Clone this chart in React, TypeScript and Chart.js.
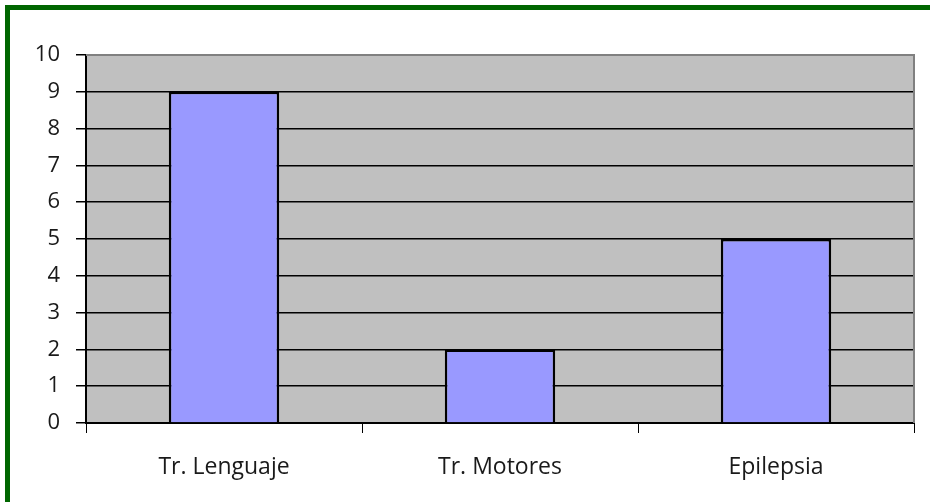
import React, { useEffect, useRef } from "react";
import { Chart, registerables } from "chart.js";

Chart.register(...registerables);

const categories = ["Tr. Lenguaje", "Tr. Motores", "Epilepsia"];
const values = [9, 2, 5];
const yTicks = [0, 1, 2, 3, 4, 5, 6, 7, 8, 9, 10];

const FONT = "'Open Sans', 'Liberation Sans', sans-serif";

const framePlugin = {
  id: "frame",
  beforeDraw(chart: any) {
    const { ctx, chartArea, width, height } = chart;
    ctx.save();
    ctx.fillStyle = "#ffffff";
    ctx.fillRect(0, 0, width, height);
    // green frame (left and top visible)
    ctx.fillStyle = "#006600";
    ctx.fillRect(5, 5, width - 5, 5);
    ctx.fillRect(5, 5, 5, height - 5);
    // plot background
    ctx.fillStyle = "#C0C0C0";
    ctx.fillRect(chartArea.left, chartArea.top, chartArea.right - chartArea.left, chartArea.bottom - chartArea.top);
    ctx.restore();
  },
  afterDatasetsDraw(chart: any) {
    const { ctx, chartArea } = chart;
    ctx.save();
    ctx.strokeStyle = "#808080";
    ctx.lineWidth = 2;
    ctx.beginPath();
    ctx.moveTo(chartArea.left, chartArea.top);
    ctx.lineTo(chartArea.right, chartArea.top);
    ctx.lineTo(chartArea.right, chartArea.bottom);
    ctx.stroke();
    ctx.restore();
  },
};

export default function App() {
  const ref = useRef<HTMLCanvasElement | null>(null);
  useEffect(() => {
    document.body.style.margin = "0";
    const chart = new Chart(ref.current as HTMLCanvasElement, {
      type: "bar",
      data: {
        labels: categories,
        datasets: [
          {
            data: values,
            backgroundColor: "#9999FF",
            borderColor: "#000000",
            borderWidth: 2.5,
            barPercentage: 0.4,
            categoryPercentage: 1,
          },
        ],
      },
      options: {
        animation: false,
        responsive: false,
        maintainAspectRatio: false,
        layout: { padding: { top: 55, right: 16, left: 0, bottom: 0 } },
        plugins: { legend: { display: false }, tooltip: { enabled: false } },
        scales: {
          x: {
            afterFit: (s: any) => {
              s.height = 79;
            },
            grid: {
              offset: true,
              drawOnChartArea: false,
              drawTicks: true,
              tickLength: 10,
              color: "#000000",
              lineWidth: 1,
            },
            border: { color: "#000000", width: 2 },
            ticks: {
              padding: 21,
              color: "#1a1a1a",
              font: { family: FONT, size: 23 },
            },
          },
          y: {
            min: 0,
            max: 10,
            afterFit: (s: any) => {
              s.width = 86;
            },
            afterBuildTicks: (s: any) => {
              s.ticks = yTicks.map((v) => ({ value: v }));
            },
            grid: {
              color: "#000000",
              lineWidth: 1.5,
              tickLength: 10,
            },
            border: { color: "#000000", width: 2 },
            ticks: {
              padding: 16,
              color: "#1a1a1a",
              font: { family: FONT, size: 22 },
            },
          },
        },
      },
      plugins: [framePlugin],
    });
    return () => chart.destroy();
  }, []);
  return (
    <div style={{ width: 930, height: 502 }}>
      <canvas ref={ref} width={930} height={502} style={{ display: "block" }} />
    </div>
  );
}
